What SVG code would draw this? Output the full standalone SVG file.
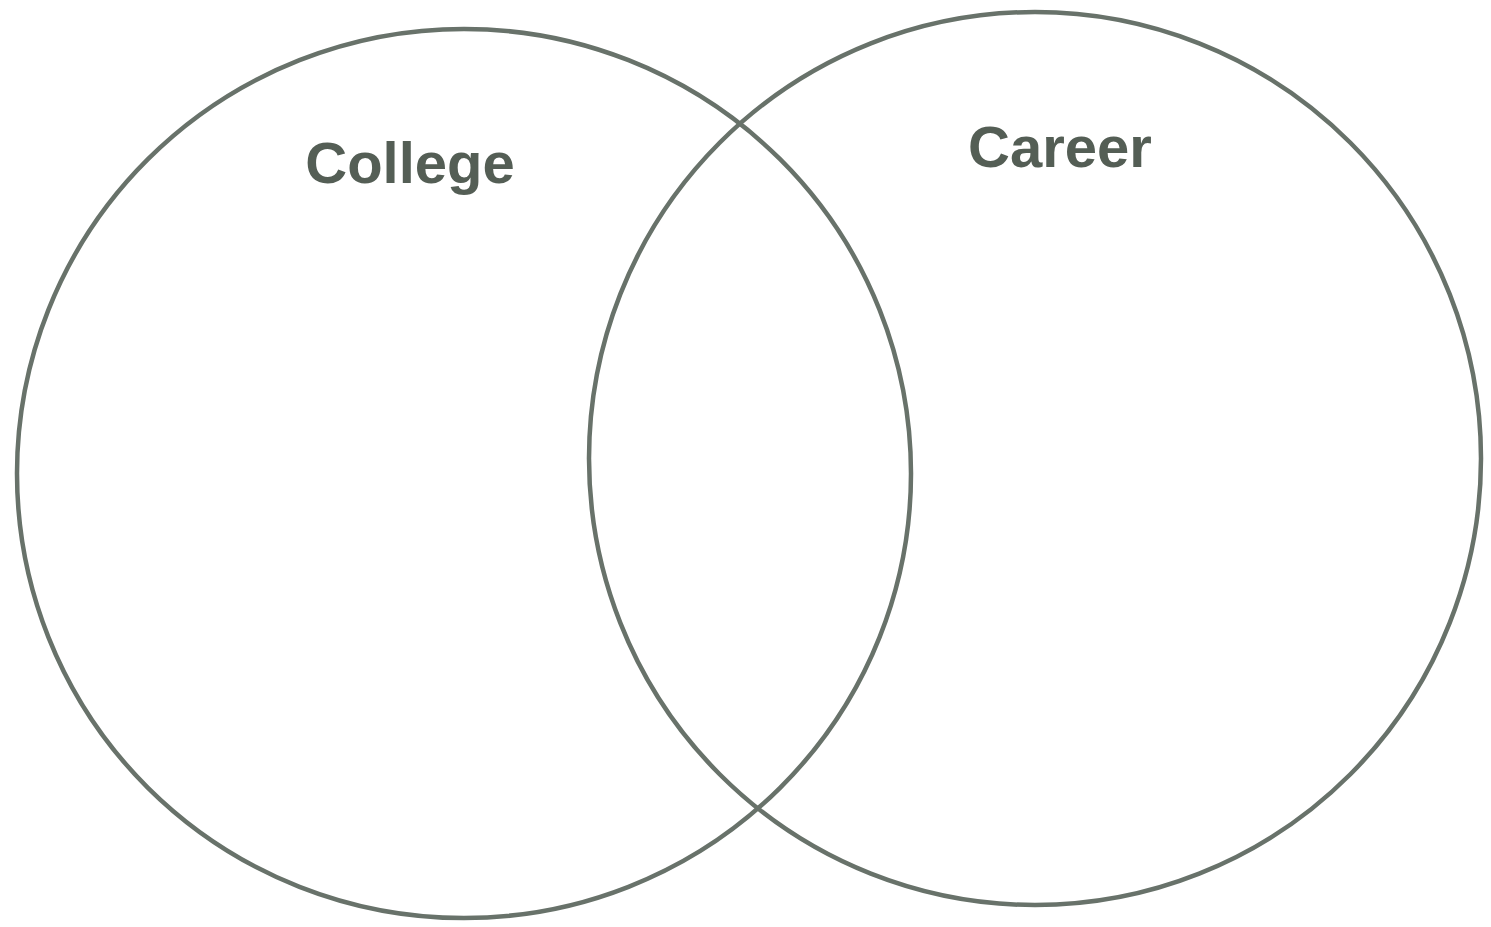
<svg xmlns="http://www.w3.org/2000/svg" width="1491" height="927" viewBox="0 0 1491 927">
<style>
.ring{fill:none;stroke:#68726a;stroke-width:4.5}
.lbl{font-family:"Liberation Sans",Arial,sans-serif;font-weight:bold;font-size:58px;fill:#545e55;text-anchor:middle}
</style>
<rect width="1491" height="927" fill="#ffffff"/>
<g id="college">
<ellipse class="ring" cx="464" cy="473.5" rx="447" ry="444.5"/>
<text class="lbl" x="410" y="183">College</text>
</g>
<g id="career">
<ellipse class="ring" cx="1035" cy="458.5" rx="446" ry="446.5"/>
<text class="lbl" x="1060" y="167">Career</text>
</g>
<g id="connectors"></g>
</svg>
